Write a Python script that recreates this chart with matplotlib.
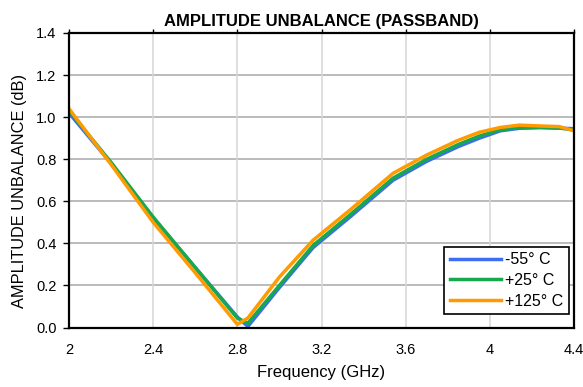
import matplotlib
matplotlib.use("Agg")
import matplotlib.pyplot as plt
from matplotlib.ticker import FixedLocator, FuncFormatter

plt.rcParams['font.family'] = ['Liberation Sans', 'DejaVu Sans']

freq = [2.0, 2.2, 2.4, 2.6, 2.8, 2.85, 3.0, 3.16, 3.335, 3.54, 3.7, 3.85, 3.95, 4.05, 4.14, 4.24, 4.33, 4.4]
m55 = [1.02, 0.78, 0.52, 0.285, 0.05, 0.005, 0.19, 0.38, 0.525, 0.70, 0.79, 0.86, 0.90, 0.935, 0.947, 0.95, 0.948, 0.945]
p25 = [1.03, 0.785, 0.525, 0.285, 0.045, 0.02, 0.20, 0.39, 0.535, 0.71, 0.80, 0.87, 0.91, 0.94, 0.95, 0.952, 0.948, 0.94]
p125 = [1.04, 0.775, 0.50, 0.26, 0.015, 0.045, 0.24, 0.415, 0.558, 0.733, 0.82, 0.89, 0.928, 0.951, 0.962, 0.958, 0.955, 0.935]
labels = ["-55\u00b0 C", "+25\u00b0 C", "+125\u00b0 C"]
colors = ["#3d6cf5", "#17a84e", "#ff9a00"]

xticks = [2.0, 2.4, 2.8, 3.2, 3.6, 4.0, 4.4]
yticks = [0.0, 0.2, 0.4, 0.6, 0.8, 1.0, 1.2, 1.4]

fig = plt.figure(figsize=(5.83, 3.87), dpi=100)
ax = fig.add_axes([69/583, 1 - 327.5/387, (574-69)/583, (327.5-33)/387])

for y, lab, c in zip([m55, p25, p125], labels, colors):
    ax.plot(freq, y, color=c, lw=2.5, label=lab, solid_joinstyle='miter', zorder=3)

ax.set_xlim(2.0, 4.4)
ax.set_ylim(0.0, 1.4)
ax.xaxis.set_major_locator(FixedLocator(xticks))
ax.yaxis.set_major_locator(FixedLocator(yticks))
ax.xaxis.set_major_formatter(FuncFormatter(lambda v, p: ("%g" % round(v, 1))))
ax.yaxis.set_major_formatter(FuncFormatter(lambda v, p: "%.1f" % v))

for v in yticks[1:-1]:
    ax.axhline(v, color="#a8a8a8", lw=1.1, zorder=1)
for v in xticks[1:-1]:
    ax.axvline(v, color="#d6d6d6", lw=1.1, zorder=1)

for s in ax.spines.values():
    s.set_linewidth(1.6)
    s.set_color("black")
    s.set_zorder(4)

ax.tick_params(axis='y', direction='out', length=4, width=1, labelsize=10.5, pad=5)
ax.tick_params(axis='x', direction='out', length=3, width=1, labelsize=10.5, pad=8, top=True, bottom=False)

ax.set_title("AMPLITUDE UNBALANCE (PASSBAND)", fontsize=12, fontweight='bold', pad=5)
ax.set_xlabel("Frequency (GHz)", fontsize=12, labelpad=6)
ax.set_ylabel("AMPLITUDE UNBALANCE (dB)", fontsize=11.8, labelpad=7)
ax.yaxis.set_label_coords(-0.083, 0.465)

leg = ax.legend(loc='lower right', bbox_to_anchor=(0.99, 0.045), fontsize=11.5, fancybox=False,
                framealpha=1, edgecolor='black', handlelength=3.2, handletextpad=0.25,
                borderpad=0.35, labelspacing=0.35, borderaxespad=0)
leg.get_frame().set_linewidth(1.2)
leg.set_zorder(5)

fig.savefig("out.png", dpi=100)
